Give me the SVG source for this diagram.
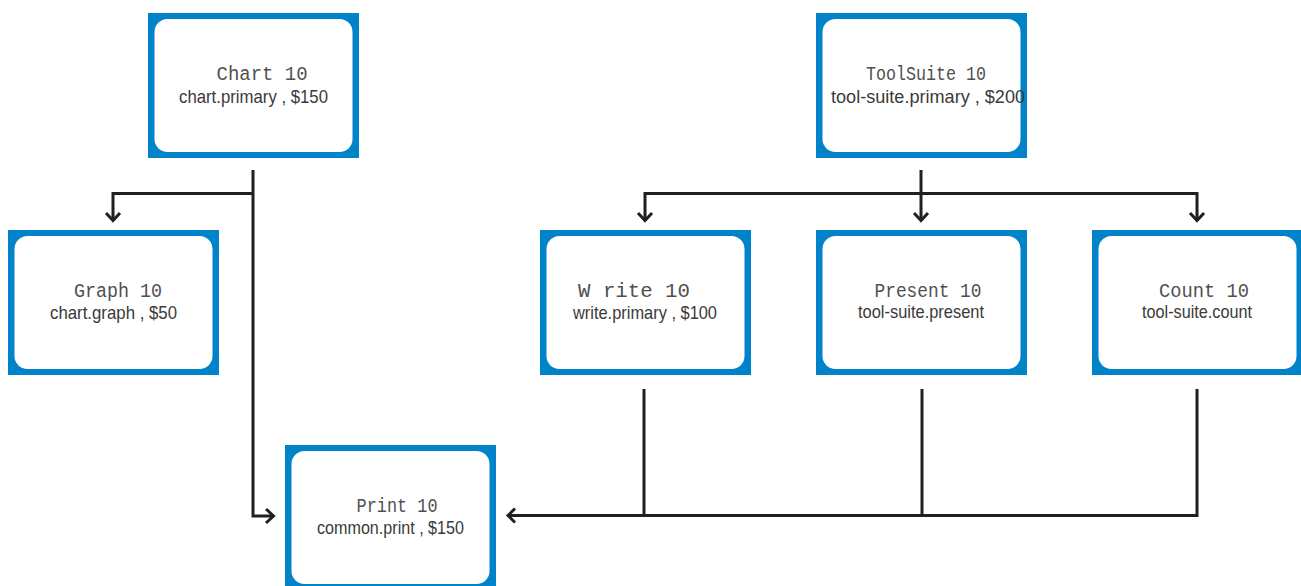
<svg xmlns="http://www.w3.org/2000/svg" width="1301" height="586" viewBox="0 0 1301 586">
<defs>
<style>
.outer{fill:#0083c9}
.inner{fill:#ffffff}
.t{font-family:"Liberation Mono","Courier New",monospace;font-size:20px;fill:#505050;text-anchor:middle}
.s{font-family:"Liberation Sans Narrow","Liberation Sans",Arial,sans-serif;font-size:18.5px;fill:#3a3a3a;text-anchor:middle}
.c{fill:none;stroke:#231f20;stroke-width:3}
</style>
</defs>
<rect width="1301" height="586" fill="#ffffff"/>
<g id="chart">
<rect class="outer" x="148" y="13" width="211" height="145"/>
<rect class="inner" x="154.5" y="19" width="198" height="133" rx="13"/>
<text class="t" x="262" y="80" textLength="91" lengthAdjust="spacingAndGlyphs">Chart 10</text>
<text class="s" x="253.5" y="103" textLength="149" lengthAdjust="spacingAndGlyphs">chart.primary , $150</text>
</g>
<g id="toolsuite">
<rect class="outer" x="816" y="13" width="211" height="145"/>
<rect class="inner" x="822.5" y="19" width="198" height="133" rx="13"/>
<text class="t" x="926" y="80" textLength="120" lengthAdjust="spacingAndGlyphs">ToolSuite 10</text>
<text class="s" x="928" y="103" textLength="194" lengthAdjust="spacingAndGlyphs">tool-suite.primary , $200</text>
</g>
<g id="graph">
<rect class="outer" x="8" y="230" width="211" height="145"/>
<rect class="inner" x="14.5" y="236" width="198" height="133" rx="13"/>
<text class="t" x="118" y="297" textLength="88" lengthAdjust="spacingAndGlyphs">Graph 10</text>
<text class="s" x="113.5" y="319" textLength="127" lengthAdjust="spacingAndGlyphs">chart.graph , $50</text>
</g>
<g id="write">
<rect class="outer" x="540" y="230" width="211" height="145"/>
<rect class="inner" x="546.5" y="236" width="198" height="133" rx="13"/>
<text class="t" x="634" y="297" textLength="112" lengthAdjust="spacingAndGlyphs">W rite 10</text>
<text class="s" x="645" y="319" textLength="144" lengthAdjust="spacingAndGlyphs">write.primary , $100</text>
</g>
<g id="present">
<rect class="outer" x="816" y="230" width="211" height="145"/>
<rect class="inner" x="822.5" y="236" width="198" height="133" rx="13"/>
<text class="t" x="928" y="297" textLength="107" lengthAdjust="spacingAndGlyphs">Present 10</text>
<text class="s" x="921" y="318" textLength="126" lengthAdjust="spacingAndGlyphs">tool-suite.present</text>
</g>
<g id="count">
<rect class="outer" x="1092" y="230" width="211" height="145"/>
<rect class="inner" x="1098.5" y="236" width="198" height="133" rx="13"/>
<text class="t" x="1204" y="297" textLength="90" lengthAdjust="spacingAndGlyphs">Count 10</text>
<text class="s" x="1197" y="318" textLength="110" lengthAdjust="spacingAndGlyphs">tool-suite.count</text>
</g>
<g id="print">
<rect class="outer" x="285" y="445" width="211" height="145"/>
<rect class="inner" x="291.5" y="451" width="198" height="133" rx="13"/>
<text class="t" x="397" y="512" textLength="81" lengthAdjust="spacingAndGlyphs">Print 10</text>
<text class="s" x="390.5" y="534" textLength="147" lengthAdjust="spacingAndGlyphs">common.print , $150</text>
</g>
<g id="connectors">
<path class="c" d="M253,170 V516 H273"/>
<polyline class="c" points="266,509 273.5,516 266,523"/>
<path class="c" d="M253,193.5 H113 V220"/>
<polyline class="c" points="106,213 113,220.5 120,213"/>
<path class="c" d="M921,170 V220"/>
<polyline class="c" points="914,213 921,220.5 928,213"/>
<path class="c" d="M645,221 V193.5 H1197 V221"/>
<polyline class="c" points="638,213 645,220.5 652,213"/>
<polyline class="c" points="1190,213 1197,220.5 1204,213"/>
<path class="c" d="M644,389 V515.5"/>
<path class="c" d="M922,389 V515.5"/>
<path class="c" d="M1197,389 V515.5 H508"/>
<polyline class="c" points="515,508.5 508,515.5 515,522.5"/>
</g>
</svg>
